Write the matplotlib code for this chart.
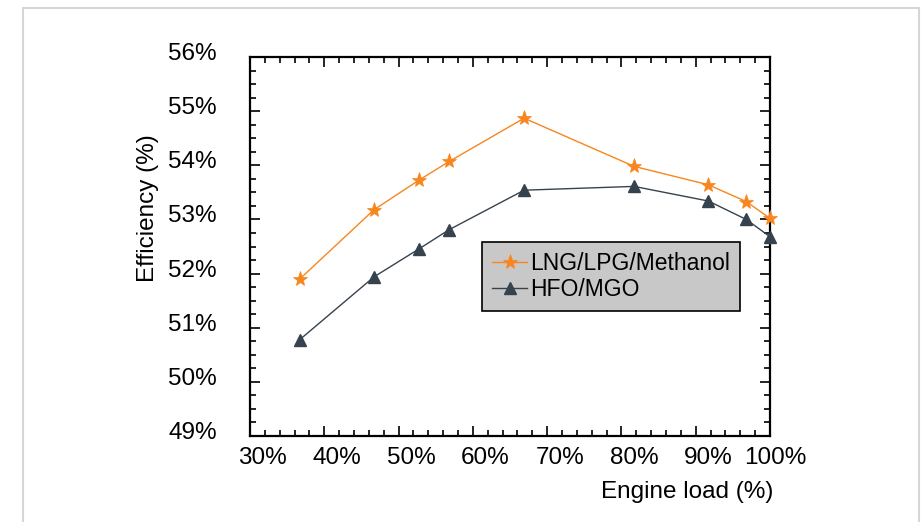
import matplotlib
matplotlib.use("Agg")
import matplotlib.pyplot as plt
import matplotlib.patches as mpatches
import matplotlib.transforms as mtransforms
from matplotlib.ticker import MultipleLocator, FuncFormatter

plt.rcParams['font.family'] = ['Liberation Sans', 'DejaVu Sans']

# engine load (%) and efficiency (%) for the two fuel groups
load = [36.7, 46.7, 52.8, 56.8, 66.9, 81.7, 91.7, 96.8, 100.0]
eff_lng = [51.90, 53.18, 53.73, 54.07, 54.87, 53.98, 53.64, 53.33, 53.02]
eff_hfo = [50.78, 51.94, 52.46, 52.81, 53.54, 53.61, 53.34, 53.00, 52.68]
labels = ["LNG/LPG/Methanol", "HFO/MGO"]
x_ticks = [30, 40, 50, 60, 70, 80, 90, 100]
y_ticks = [49, 50, 51, 52, 53, 54, 55, 56]

orange = "#f7861e"
slate = "#36434f"

fig = plt.figure(figsize=(9.22, 5.22), dpi=100)
fig.patch.set_facecolor("white")

# thin grey frame around the whole figure
fig.add_artist(mpatches.Rectangle((23 / 922, -0.05), (919 - 23) / 922, 1.05 - 8 / 522,
                                  transform=fig.transFigure, fill=False,
                                  edgecolor="#d6d6d6", linewidth=1.5))

ax = fig.add_axes([250 / 922, 1 - 436 / 522, 520 / 922, 379 / 522])

ax.plot(load, eff_lng, color=orange, lw=1.0, marker="*", ms=11,
        markeredgewidth=0.5, label=labels[0], clip_on=False, zorder=4)
ax.plot(load, eff_hfo, color=slate, lw=1.0, marker="^", ms=8.5,
        label=labels[1], clip_on=False, zorder=3)

ax.set_xlim(30, 100)
ax.set_ylim(49, 56)
ax.set_xticks(x_ticks)
ax.set_yticks(y_ticks)
ax.xaxis.set_minor_locator(MultipleLocator(2))
ax.yaxis.set_minor_locator(MultipleLocator(0.25))
pct = FuncFormatter(lambda v, p: "%d%%" % round(v))
ax.xaxis.set_major_formatter(pct)
ax.yaxis.set_major_formatter(pct)

ax.tick_params(which="both", direction="in", top=True, right=True, width=1.2)
ax.tick_params(which="major", length=7, labelsize=17.5, pad=8)
ax.tick_params(which="minor", length=4)
ax.tick_params(axis="y", which="major", pad=24)
for s in ax.spines.values():
    s.set_linewidth(1.6)

# x tick labels sit right-aligned a bit past their tick
shift = mtransforms.ScaledTranslation(37 / 100, 0, fig.dpi_scale_trans)
for t in ax.get_xticklabels():
    t.set_horizontalalignment("right")
    t.set_transform(t.get_transform() + shift)
for t in ax.get_yticklabels():
    t.set_verticalalignment("center")
    t.set_transform(t.get_transform() + mtransforms.ScaledTranslation(0, 3 / 100, fig.dpi_scale_trans))

fig.text(687 / 922, 1 - 492 / 522, "Engine load (%)", ha="center", va="center", fontsize=17.5)
fig.text(148 / 922, 1 - 208 / 522, "Efficiency (%)", ha="center", va="center",
         rotation=90, fontsize=17.5)

leg = ax.legend(loc="upper left", bbox_to_anchor=((482 - 250) / 520, (436 - 242) / 379),
                fontsize=16.5, frameon=True, fancybox=False, framealpha=1,
                facecolor="#c8c8c8", edgecolor="black", handlelength=1.5,
                handletextpad=0.15, borderpad=0.45, labelspacing=0.1,
                borderaxespad=0)
leg.get_frame().set_linewidth(1.2)

fig.savefig("out.png", dpi=100)
